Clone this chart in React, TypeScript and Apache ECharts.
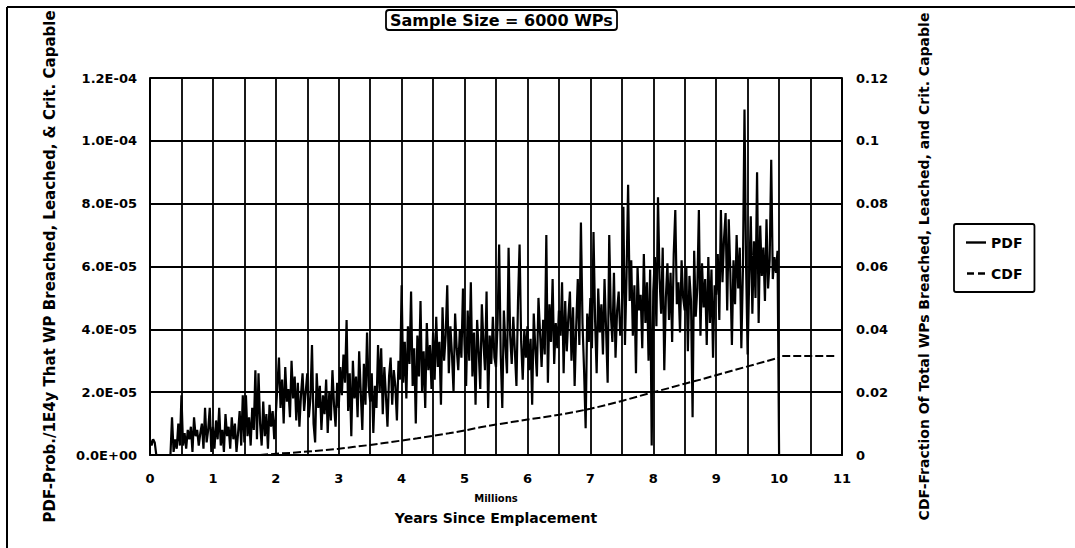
import React, { useEffect, useRef } from "react";
import * as echarts from "echarts";

// PDF values in units of 1E-05, sampled every 0.025 million years starting at 0
const pdfStep = 0.025;
const pdfRows: number[][] = [
  [0.5, 0.3, 0.5, 0.4, 0.0, 0.0, 0.0, 0.0, 0.0, 0.0, 0.0, 0.0, 0.0, 0.0, 1.2, 0.1, 0.5, 0.2, 1.0, 0.3],
  [1.9, 0.3, 0.7, 0.2, 0.8, 0.5, 0.9, 0.1, 1.2, 0.6, 0.8, 0.3, 0.7, 1.0, 0.2, 1.5, 0.4, 0.8, 1.5, 0.1],
  [0.9, 0.2, 1.1, 0.5, 1.5, 0.3, 0.8, 0.1, 1.3, 0.6, 0.9, 0.2, 1.2, 0.5, 1.0, 0.1, 0.7, 1.4, 0.3, 1.9],
  [0.4, 1.9, 0.6, 1.2, 0.3, 1.5, 0.8, 2.7, 0.5, 2.6, 1.0, 0.3, 1.7, 0.6, 1.3, 0.2, 1.6, 0.9, 1.4, 0.5],
  [1.3, 2.2, 3.1, 1.5, 2.4, 1.0, 2.8, 1.7, 2.1, 1.2, 3.0, 1.8, 2.5, 1.1, 2.3, 0.9, 1.9, 2.6, 1.4, 2.0],
  [2.6, 1.2, 1.8, 3.5, 1.0, 0.4, 2.6, 1.5, 2.2, 0.8, 1.9, 1.3, 2.4, 0.7, 2.0, 1.1, 2.7, 1.6, 0.9, 2.3],
  [1.5, 2.8, 1.9, 3.2, 2.3, 4.3, 1.4, 2.6, 0.6, 3.0, 1.8, 2.5, 1.2, 3.3, 2.0, 0.8, 2.9, 1.6, 3.9, 2.2],
  [1.7, 2.6, 0.7, 2.2, 1.5, 3.5, 2.0, 3.4, 1.3, 2.8, 1.9, 0.9, 2.5, 3.1, 1.6, 2.7, 2.2, 1.1, 3.0, 2.4],
  [5.4, 2.3, 3.6, 1.8, 4.1, 2.9, 5.2, 2.2, 3.4, 1.0, 3.8, 2.5, 4.9, 2.0, 3.3, 1.5, 4.2, 2.7, 3.5, 2.1],
  [3.9, 2.4, 4.4, 2.8, 3.6, 1.6, 4.7, 3.0, 3.8, 5.4, 2.6, 4.1, 3.2, 2.0, 4.5, 3.4, 2.7, 4.0, 3.1, 5.3],
  [3.5, 2.2, 4.6, 3.0, 5.5, 2.5, 3.9, 1.6, 4.3, 3.3, 2.1, 4.8, 3.6, 2.7, 5.2, 1.5, 3.8, 2.9, 4.4, 3.1],
  [2.8, 4.2, 6.7, 3.2, 1.5, 4.6, 3.5, 2.6, 6.6, 3.8, 2.9, 4.4, 3.3, 2.2, 4.9, 6.7, 3.6, 2.4, 4.0, 3.1],
  [4.1, 2.7, 3.7, 1.6, 4.5, 3.4, 2.5, 5.0, 3.9, 2.8, 4.3, 3.2, 7.0, 2.3, 4.8, 3.6, 5.6, 2.9, 4.2, 3.4],
  [4.6, 3.8, 5.5, 2.6, 4.9, 3.3, 4.4, 5.2, 3.0, 4.7, 2.2, 4.1, 5.6, 3.5, 7.4, 4.2, 2.7, 0.85, 4.5, 3.6],
  [5.0, 3.4, 7.1, 4.3, 2.6, 5.3, 3.9, 4.8, 3.2, 5.6, 4.0, 2.3, 7.0, 4.5, 3.6, 5.8, 3.1, 4.6, 5.2, 3.8],
  [4.4, 7.9, 3.5, 5.7, 8.6, 4.9, 6.2, 3.8, 5.4, 2.6, 6.0, 4.6, 5.1, 3.4, 6.4, 4.2, 5.5, 3.0, 5.9, 0.3],
  [5.2, 6.3, 4.1, 8.2, 5.6, 4.5, 6.6, 2.7, 5.0, 6.1, 4.3, 5.8, 3.6, 6.4, 7.8, 4.8, 5.5, 3.9, 6.2, 5.0],
  [4.6, 6.0, 3.3, 5.7, 4.9, 1.2, 6.5, 4.4, 5.3, 7.8, 3.8, 6.1, 4.7, 5.6, 3.5, 6.3, 4.2, 5.9, 3.1, 5.4],
  [5.1, 6.4, 4.3, 7.8, 5.5, 6.9, 7.7, 4.6, 7.5, 5.8, 3.5, 6.2, 4.8, 7.0, 5.3, 6.6, 3.4, 5.9, 11.0, 6.1],
  [3.2, 5.6, 7.6, 4.5, 6.8, 5.0, 9.0, 4.2, 7.3, 5.7, 6.6, 4.9, 7.5, 5.3, 6.2, 9.4, 5.6, 6.3, 5.8, 6.5],
  [0.0],
];

// CDF (fraction) at given times (millions of years)
const cdfX: number[] = [
  1.75, 2.0, 2.25, 2.5, 2.75, 3.0, 3.25, 3.5, 3.75, 4.0, 4.25, 4.5, 4.75, 5.0, 5.25, 5.5, 5.75,
  6.0, 6.25, 6.5, 6.75, 7.0, 7.25, 7.5, 7.75, 8.0, 8.25, 8.5, 8.75, 9.0, 9.25, 9.5, 9.75, 10.0,
  10.02, 10.05, 10.9,
];
const cdfY: (number | null)[] = [
  0.0, 0.0004, 0.0007, 0.0011, 0.0015, 0.002, 0.0026, 0.0032, 0.0039, 0.0046, 0.0053, 0.0061, 0.0069,
  0.0078, 0.0088, 0.0097, 0.0105, 0.0113, 0.012, 0.0128, 0.0137, 0.0147, 0.0159, 0.0172, 0.0186, 0.02,
  0.0213, 0.0227, 0.024, 0.0254, 0.0268, 0.0282, 0.0296, 0.031,
  null, 0.0315, 0.0315,
];

const seriesNames = ["PDF", "CDF"];
const xTicks = { min: 0, max: 11, interval: 0.5 };
const leftTicks = { min: 0, max: 1.2e-4, interval: 2e-5 };
const rightTicks = { min: 0, max: 0.12, interval: 0.02 };

const FONT = "'DejaVu Sans', 'Liberation Sans', Arial, sans-serif";

function sci(v: number): string {
  if (v === 0) return "0.0E+00";
  const e = Math.floor(Math.log10(Math.abs(v)) + 1e-9);
  const m = v / Math.pow(10, e);
  return m.toFixed(1) + "E" + (e < 0 ? "-" : "+") + String(Math.abs(e)).padStart(2, "0");
}

export default function App() {
  const ref = useRef<HTMLDivElement>(null);
  useEffect(() => {
    if (!ref.current) return;
    const chart = echarts.init(ref.current, undefined, { renderer: "svg" });
    const pdfData: [number, number][] = [];
    let idx = 0;
    pdfRows.forEach((row) => {
      row.forEach((v) => {
        pdfData.push([+(idx * pdfStep).toFixed(3), v * 1e-5]);
        idx++;
      });
    });
    const cdfData = cdfX.map((x, i) => [x, cdfY[i]]);
    const black = "#000";
    chart.setOption({
      animation: false,
      backgroundColor: "#fff",
      textStyle: { fontFamily: FONT, color: black, fontWeight: "bold" },
      title: {
        text: "Sample Size = 6000 WPs",
        left: 386,
        top: 10,
        padding: [2, 4],
        borderColor: black,
        borderWidth: 1.8,
        borderRadius: 3,
        textStyle: { fontFamily: FONT, fontSize: 16, fontWeight: "bold", color: black },
      },
      legend: {
        data: [
          { name: seriesNames[0], icon: "path://M0,0H20V2.4H0Z" },
          { name: seriesNames[1], icon: "path://M0,0H7V2.4H0Z M11,0H18V2.4H11Z" },
        ],
        orient: "vertical",
        left: 954,
        top: 224,
        padding: [10, 12, 10, 12],
        itemGap: 14,
        itemWidth: 20,
        itemHeight: 2.4,
        borderColor: black,
        borderWidth: 1.8,
        borderRadius: 2,
        textStyle: { fontFamily: FONT, fontSize: 14, fontWeight: "bold", color: black, lineHeight: 17 },
      },
      grid: { left: 150, right: 233, top: 78, bottom: 93, containLabel: false },
      xAxis: {
        type: "value",
        min: xTicks.min,
        max: xTicks.max,
        interval: xTicks.interval,
        name: "{a|Millions}\n{b|Years Since Emplacement}",
        nameLocation: "middle",
        nameGap: 35,
        nameTextStyle: {
          rich: {
            a: { fontFamily: FONT, fontSize: 10, fontWeight: "bold", color: black, lineHeight: 16 },
            b: { fontFamily: FONT, fontSize: 14, fontWeight: "bold", color: black, lineHeight: 24 },
          },
        },
        axisLine: { show: true, lineStyle: { color: black, width: 2 } },
        axisTick: { show: false },
        splitLine: { show: true, lineStyle: { color: black, width: 1.8 } },
        axisLabel: {
          margin: 17,
          fontFamily: FONT,
          fontSize: 13,
          fontWeight: "bold",
          color: black,
          showMaxLabel: true,
          formatter: (v: number) => (Math.abs(v - Math.round(v)) < 1e-6 ? String(Math.round(v)) : ""),
        },
      },
      yAxis: [
        {
          type: "value",
          min: leftTicks.min,
          max: leftTicks.max,
          interval: leftTicks.interval,
          position: "left",
          name: "PDF-Prob./1E4y That WP Breached, Leached, & Crit. Capable",
          nameLocation: "middle",
          nameGap: 93,
          nameTextStyle: { fontFamily: FONT, fontSize: 15, fontWeight: "bold", color: black },
          axisLine: { show: true, lineStyle: { color: black, width: 2 } },
          axisTick: { show: false },
          splitLine: { show: true, lineStyle: { color: black, width: 1.8 } },
          axisLabel: {
            margin: 13,
            fontFamily: FONT,
            fontSize: 13,
            fontWeight: "bold",
            color: black,
            formatter: (v: number) => sci(v),
          },
        },
        {
          type: "value",
          min: rightTicks.min,
          max: rightTicks.max,
          interval: rightTicks.interval,
          position: "right",
          name: "CDF-Fraction Of Total WPs Breached, Leached, and Crit. Capable",
          nameLocation: "middle",
          nameGap: 75,
          nameTextStyle: { fontFamily: FONT, fontSize: 14, fontWeight: "bold", color: black },
          axisLine: { show: true, lineStyle: { color: black, width: 2 } },
          axisTick: { show: false },
          splitLine: { show: false },
          axisLabel: {
            margin: 14,
            fontFamily: FONT,
            fontSize: 13,
            fontWeight: "bold",
            color: black,
            formatter: (v: number) => String(Math.round(v * 100) / 100),
          },
        },
      ],
      graphic: [
        { type: "line", shape: { x1: 7, y1: 7, x2: 1075, y2: 7 }, style: { stroke: black, lineWidth: 2 } },
        { type: "line", shape: { x1: 7, y1: 7, x2: 7, y2: 548 }, style: { stroke: black, lineWidth: 2 } },
      ],
      series: [
        {
          name: seriesNames[0],
          type: "line",
          yAxisIndex: 0,
          data: pdfData,
          showSymbol: false,
          symbol: "none",
          lineStyle: { color: black, width: 2.2 },
          itemStyle: { color: black },
        },
        {
          name: seriesNames[1],
          type: "line",
          yAxisIndex: 1,
          data: cdfData,
          showSymbol: false,
          symbol: "none",
          connectNulls: false,
          lineStyle: { color: black, width: 2, type: [8, 3] },
          itemStyle: { color: black },
        },
      ],
    });
    return () => chart.dispose();
  }, []);
  return (
    <div
      ref={ref}
      style={{ position: "fixed", left: 0, top: 0, width: 1075, height: 548, background: "#fff" }}
    />
  );
}
